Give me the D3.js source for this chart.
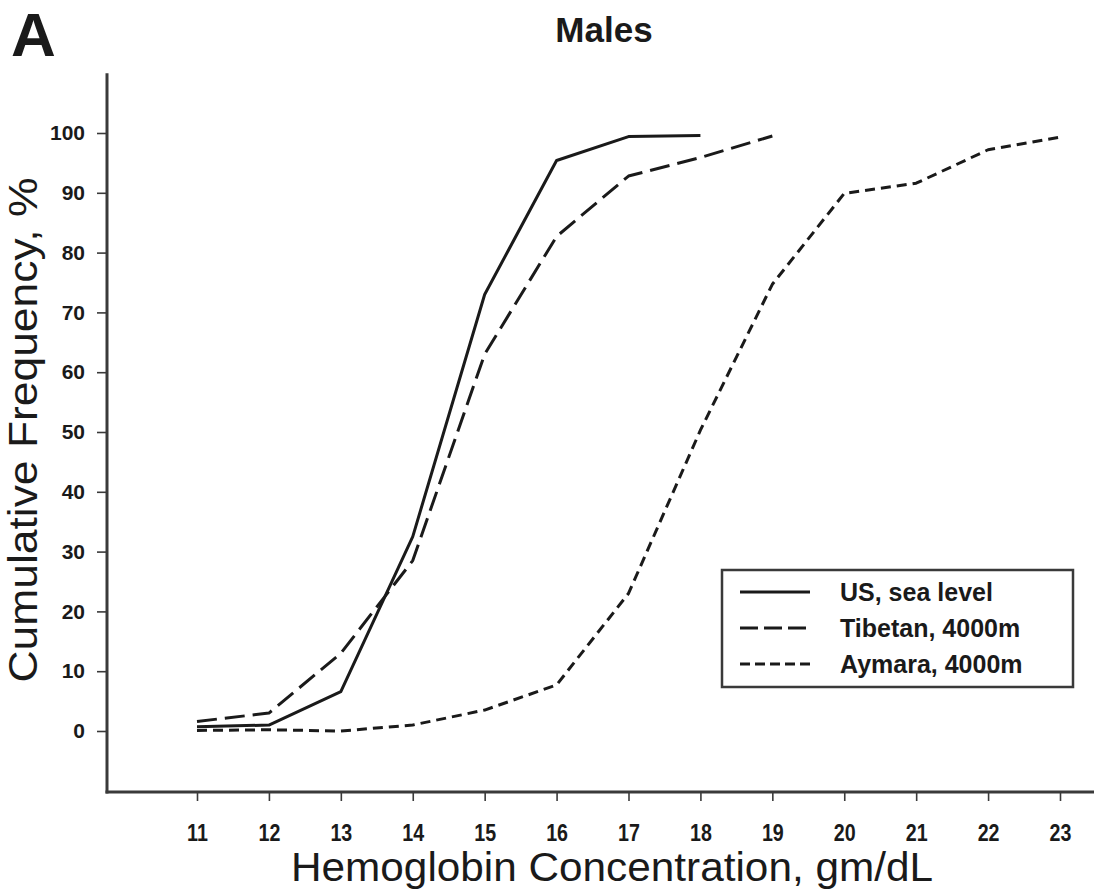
<!DOCTYPE html>
<html>
<head>
<meta charset="utf-8">
<script src="https://cdn.jsdelivr.net/npm/d3@7"></script>
<style>
  html, body { margin: 0; padding: 0; background: #fff; }
  svg { display: block; }
  text { font-family: "Liberation Sans", Arial, Helvetica, sans-serif; fill: #1a1a1a; }
</style>
</head>
<body>
<svg id="chart" width="1094" height="890"></svg>
<script>
// ---- data ----
const usX = [11, 12, 13, 14, 15, 16, 17, 18];
const usY = [0.7, 1.0, 6.6, 32.5, 73, 95.4, 99.4, 99.6];
const tibetanX = [11, 12, 13, 14, 15, 16, 17, 18, 19];
const tibetanY = [1.6, 3.0, 13, 28.5, 63, 82.7, 92.8, 95.9, 99.5];
const aymaraX = [11, 12, 13, 14, 15, 16, 17, 18, 19, 20, 21, 22, 23];
const aymaraY = [0.1, 0.2, 0, 1, 3.5, 7.7, 23, 50.3, 74.7, 89.9, 91.6, 97.2, 99.3];
const xTicks = [11, 12, 13, 14, 15, 16, 17, 18, 19, 20, 21, 22, 23];
const yTicks = [0, 10, 20, 30, 40, 50, 60, 70, 80, 90, 100];
const seriesNames = ["US, sea level", "Tibetan, 4000m", "Aymara, 4000m"];
const panelLetter = "A";
const titleText = "Males";
const xLabel = "Hemoglobin Concentration, gm/dL";
const yLabel = "Cumulative Frequency, %";

// ---- layout ----
const svg = d3.select("#chart");
const x = d3.scaleLinear().domain([11, 23]).range([197, 1060]);
const y = d3.scaleLinear().domain([0, 100]).range([731, 133]);
const axisX0 = 107, axisX1 = 1094;
const axisYBottom = y(-10.2), axisYTop = y(110);
const ink = "#1a1a1a";
const axisInk = "#3a3a3a";

// axes lines
svg.append("line").attr("x1", axisX0).attr("x2", axisX0)
  .attr("y1", axisYTop).attr("y2", axisYBottom + 1.5)
  .attr("stroke", axisInk).attr("stroke-width", 3);
svg.append("line").attr("x1", axisX0 - 1.5).attr("x2", axisX1)
  .attr("y1", axisYBottom).attr("y2", axisYBottom)
  .attr("stroke", axisInk).attr("stroke-width", 3);

// y axis ticks and labels
const yAxis = d3.axisLeft(y).tickValues(yTicks).tickSize(10).tickPadding(12).tickFormat(d3.format("d"));
const gy = svg.append("g").attr("transform", `translate(${axisX0},0)`).call(yAxis);
gy.select(".domain").remove();
gy.selectAll(".tick line").attr("stroke", axisInk).attr("stroke-width", 1.6);
gy.selectAll(".tick text")
  .attr("font-size", 21).attr("font-weight", "bold")
  .attr("font-family", "'Liberation Sans', Arial, sans-serif")
  .attr("fill", ink);

// x axis ticks and labels
const xAxis = d3.axisBottom(x).tickValues(xTicks).tickSize(9).tickPadding(0).tickFormat(d3.format("d"));
const gx = svg.append("g").attr("transform", `translate(0,${axisYBottom})`).call(xAxis);
gx.select(".domain").remove();
gx.selectAll(".tick line").attr("stroke", axisInk).attr("stroke-width", 1.6);
gx.selectAll(".tick text")
  .attr("font-size", 24).attr("font-weight", "bold")
  .attr("font-family", "'Liberation Sans Narrow', 'Liberation Sans', Arial, sans-serif")
  .attr("fill", ink)
  .attr("dy", null)
  .attr("y", 0)
  .attr("transform", "translate(0,49) scale(0.82,1)");

// ---- lines ----
const line = d3.line().x(d => x(d[0])).y(d => y(d[1]));
const series = [
  { name: seriesNames[0], pts: d3.zip(usX, usY), dash: null },
  { name: seriesNames[1], pts: d3.zip(tibetanX, tibetanY), dash: "20,8" },
  { name: seriesNames[2], pts: d3.zip(aymaraX, aymaraY), dash: "10,6" }
];
svg.append("g").selectAll("path").data(series).join("path")
  .attr("d", d => line(d.pts))
  .attr("fill", "none")
  .attr("stroke", ink)
  .attr("stroke-width", 3)
  .attr("stroke-linejoin", "round")
  .attr("stroke-dasharray", d => d.dash);

// ---- legend ----
const lg = svg.append("g");
lg.append("rect").attr("x", 722).attr("y", 570).attr("width", 351).attr("height", 117)
  .attr("fill", "#fff").attr("stroke", axisInk).attr("stroke-width", 2.5);
const legendDash = [null, "18,6", "10,5"];
series.forEach((s, i) => {
  const cy = 592 + i * 36;
  lg.append("line").attr("x1", 740).attr("x2", 810).attr("y1", cy).attr("y2", cy)
    .attr("stroke", ink).attr("stroke-width", 3).attr("stroke-dasharray", legendDash[i]);
  lg.append("text").attr("x", 840).attr("y", cy + 9)
    .attr("font-size", 25).attr("font-weight", "bold").text(s.name);
});

// ---- titles ----
svg.append("text").attr("x", 11).attr("y", 56).attr("font-size", 62).attr("font-weight", "bold")
  .text(panelLetter);
svg.append("text").attr("x", 604).attr("y", 42).attr("text-anchor", "middle")
  .attr("font-size", 35).attr("font-weight", "bold").text(titleText);
svg.append("text").attr("x", 612).attr("y", 881).attr("text-anchor", "middle")
  .attr("font-size", 40).attr("textLength", 642).attr("lengthAdjust", "spacingAndGlyphs")
  .text(xLabel);
svg.append("text").attr("transform", "translate(37,430) rotate(-90)").attr("text-anchor", "middle")
  .attr("font-size", 40).attr("textLength", 505).attr("lengthAdjust", "spacingAndGlyphs")
  .text(yLabel);
</script>
</body>
</html>
